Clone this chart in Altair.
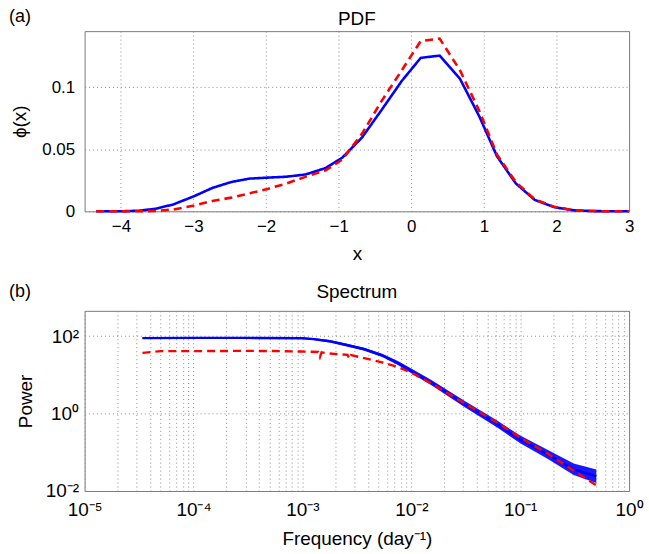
import altair as alt
import pandas as pd

# ---------------- data: panel (a) PDF ----------------
pdf_x = [-4.34, -4.0, -3.75, -3.53, -3.28, -2.99, -2.74, -2.48, -2.23, -1.98,
         -1.73, -1.46, -1.18, -0.95, -0.68, -0.41, -0.13, 0.13, 0.39, 0.67,
         0.94, 1.18, 1.44, 1.70, 1.97, 2.24, 2.5, 2.75, 3.0]
pdf_blue = [0, 0, 0.0005, 0.002, 0.0055, 0.0122, 0.0188, 0.0236, 0.0263, 0.0271,
            0.0278, 0.0296, 0.0348, 0.0432, 0.0593, 0.0815, 0.1050, 0.1235, 0.1253, 0.1067,
            0.0760, 0.0443, 0.0224, 0.0092, 0.0033, 0.0008, 0.0002, 0, 0]
pdf_red = [0, 0, 0, 0.0003, 0.0014, 0.0047, 0.0083, 0.0110, 0.0144, 0.0180,
           0.0222, 0.0277, 0.0330, 0.0416, 0.0623, 0.0887, 0.1136, 0.1370, 0.1390, 0.1136,
           0.0804, 0.0457, 0.0235, 0.0097, 0.0036, 0.0008, 0.0002, 0, 0]

# ---------------- data: panel (b) Spectrum ----------------
spec_f_blue = [3.4e-5, 1e-4, 3e-4, 1e-3, 1.26e-3, 1.78e-3, 2.5e-3, 3.7e-3, 5.4e-3,
               7.6e-3, 1e-2, 1.53e-2, 3.1e-2, 6.2e-2, 0.1, 0.178, 0.31, 0.5]
spec_p_blue = [89, 90, 90, 88, 84, 74, 60, 46, 32, 20, 12.6, 6.3, 1.74, 0.52, 0.21,
               0.089, 0.036, 0.024]
spec_p_blue_low = [85, 86, 86, 84, 79, 69, 55, 42, 29, 17.8, 11, 5.4, 1.45, 0.43,
                   0.17, 0.068, 0.026, 0.016]
spec_p_blue_high = [93, 94, 94, 92, 89, 79, 65, 50, 35, 22.5, 14.5, 7.4, 2.1, 0.65,
                    0.27, 0.117, 0.051, 0.036]
spec_f_red = [3.4e-5, 5e-5, 1e-4, 3.2e-4, 6.3e-4, 1e-3, 1.4e-3, 1.45e-3, 1.5e-3,
              1.78e-3, 2.6e-3, 2.7e-3, 2.8e-3, 3.7e-3, 5.4e-3, 7.6e-3, 1e-2, 1.53e-2,
              3.1e-2, 6.2e-2, 0.1, 0.178, 0.31, 0.5]
spec_p_red = [37, 41, 41, 41.7, 41, 40, 39, 29, 38, 35.5, 33, 26, 32.5, 27, 21, 15.8,
              11.5, 6.0, 1.82, 0.575, 0.24, 0.093, 0.034, 0.014]

pdf_xticks = [-4, -3, -2, -1, 0, 1, 2, 3]
pdf_yticks = [0, 0.05, 0.1]
spec_xmajor = [1e-5, 1e-4, 1e-3, 1e-2, 1e-1, 1.0]
spec_xlabels = ["10\u207b\u2075", "10\u207b\u2074", "10\u207b\u00b3", "10\u207b\u00b2",
                "10\u207b\u00b9", "10\u2070"]
spec_ymajor = [1e-2, 1.0, 1e2]
spec_ylabels = ["10\u207b\u00b2", "10\u2070", "10\u00b2"]

FONT = "Liberation Sans"
W, H = 547, 181
BLUE = "#0000ff"
RED = "#ff0000"
GRID = dict(grid=True, gridDash=[1, 3], gridColor="#8c8c8c", gridWidth=1, gridOpacity=1,
            ticks=False, domain=False, labelFont=FONT, labelColor="black",
            titleFont=FONT, titleFontSize=19, titleFontWeight="normal", titleColor="black",
            labelFlush=False, labelOverlap=False)


def label_expr(values, labels):
    expr = "''"
    for v, l in zip(values[::-1], labels[::-1]):
        expr = f"datum.value == {repr(float(v))} ? '{l}' : ({expr})"
    return expr


def text_layer(txt, x, y, size, align):
    return alt.Chart(alt.Data(values=[{"t": txt}])).mark_text(
        font=FONT, fontSize=size, align=align, baseline="middle", color="black"
    ).encode(x=alt.value(x), y=alt.value(y), text="t:N")


# ---------------- panel (a) ----------------
df_a = pd.DataFrame({
    "x": pdf_x * 2,
    "phi": pdf_blue + pdf_red,
    "series": ["blue"] * len(pdf_x) + ["red"] * len(pdf_x),
})

lines_a = alt.Chart(df_a).mark_line(strokeWidth=2.6).encode(
    x=alt.X("x:Q", scale=alt.Scale(domain=[-4.5, 3], nice=False, zero=False),
            axis=alt.Axis(values=pdf_xticks, title="x", labelFontSize=17, labelPadding=7,
                          titlePadding=10, **GRID)),
    y=alt.Y("phi:Q", scale=alt.Scale(domain=[0, 0.145], nice=False, zero=False),
            axis=alt.Axis(values=pdf_yticks, title="\u03d5(x)", format="~g", labelFontSize=17,
                          labelPadding=10, titlePadding=12, **GRID)),
    color=alt.Color("series:N", scale=alt.Scale(domain=["blue", "red"], range=[BLUE, RED]),
                    legend=None),
    strokeDash=alt.StrokeDash("series:N",
                              scale=alt.Scale(domain=["blue", "red"], range=[[1, 0], [8, 5]]),
                              legend=None),
    order=alt.Order("x:Q"),
)

panel_a = alt.layer(
    lines_a,
    text_layer("(a)", -76, -14, 18, "left"),
    text_layer("PDF", W / 2, -12, 19, "center"),
).properties(width=W, height=H)

# ---------------- panel (b) ----------------
df_bb = pd.DataFrame({"f": spec_f_blue, "p": spec_p_blue, "lo": spec_p_blue_low,
                      "hi": spec_p_blue_high})
df_br = pd.DataFrame({"f": spec_f_red, "p": spec_p_red})

xs = alt.Scale(type="log", domain=[1e-5, 1.0], nice=False)
ys = alt.Scale(type="log", domain=[1e-2, 450], nice=False)
xminor = [k * 10.0 ** e for e in range(-5, 0) for k in range(1, 10)] + [1.0]
xaxis_b = alt.Axis(values=xminor, labelExpr=label_expr(spec_xmajor, spec_xlabels),
                   title="Frequency (day\u207b\u00b9)", labelFontSize=19, labelPadding=10,
                   titlePadding=10, **GRID)
yaxis_b = alt.Axis(values=spec_ymajor, labelExpr=label_expr(spec_ymajor, spec_ylabels),
                   title="Power", labelFontSize=19, labelPadding=6, titlePadding=10, **GRID)

band_b = alt.Chart(df_bb).mark_area(color=BLUE, opacity=0.9).encode(
    x=alt.X("f:Q", scale=xs, axis=xaxis_b),
    y=alt.Y("lo:Q", scale=ys, axis=yaxis_b),
    y2="hi:Q",
)
blue_b = alt.Chart(df_bb).mark_line(color=BLUE, strokeWidth=2.4).encode(
    x=alt.X("f:Q", scale=xs, axis=xaxis_b),
    y=alt.Y("p:Q", scale=ys, axis=yaxis_b),
)
red_b = alt.Chart(df_br).mark_line(color=RED, strokeWidth=2.4, strokeDash=[8, 5]).encode(
    x=alt.X("f:Q", scale=xs, axis=xaxis_b),
    y=alt.Y("p:Q", scale=ys, axis=yaxis_b),
)

panel_b = alt.layer(
    band_b, blue_b, red_b,
    text_layer("(b)", -76, -19, 18, "left"),
    text_layer("Spectrum", W / 2, -19, 19, "center"),
).properties(width=W, height=H)

chart = alt.vconcat(panel_a, panel_b, spacing=18).properties(
    padding={"left": 8, "top": 6, "right": 5, "bottom": 5},
    background="white",
).configure_view(stroke="#7a7a7a", strokeWidth=1)

chart.save("out.html", embed_options={"renderer": "svg", "actions": False})
